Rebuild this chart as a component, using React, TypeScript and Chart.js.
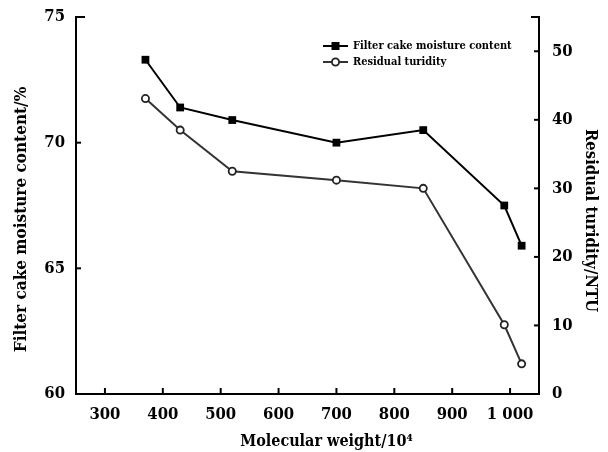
import React, { useEffect, useRef } from "react";
import { Chart, registerables } from "chart.js";

Chart.register(...registerables);

const molecularWeights = [370, 430, 520, 700, 850, 990, 1020];
const moistureContent = [73.3, 71.4, 70.9, 70.0, 70.5, 67.5, 65.9];
const residualTurbidity = [43.1, 38.5, 32.5, 31.2, 30.0, 10.1, 4.4];

const xTickValues = [300, 400, 500, 600, 700, 800, 900, 1000];
const xTickLabels = ["300", "400", "500", "600", "700", "800", "900", "1 000"];
const leftTickValues = [60, 65, 70, 75];
const rightTickValues = [0, 10, 20, 30, 40, 50, 55];
const rightTickLabels = ["0", "10", "20", "30", "40", "50", ""];

const seriesNames = ["Filter cake moisture content", "Residual turidity"];
const xTitle = "Molecular weight/10\u2074";
const leftTitle = "Filter cake moisture content/%";
const rightTitle = "Residual turidity/NTU";

const FONT = "'DejaVu Serif Condensed', 'DejaVu Serif', serif";

const inwardTicks = {
  id: "inwardTicks",
  afterDraw(chart: any) {
    const ctx = chart.ctx;
    const area = chart.chartArea;
    ctx.save();
    ctx.strokeStyle = "#000";
    ctx.lineWidth = 2;
    const xs = chart.scales.x;
    xs.ticks.forEach((t: any) => {
      const px = xs.getPixelForValue(t.value);
      ctx.beginPath();
      ctx.moveTo(px, area.bottom);
      ctx.lineTo(px, area.bottom - 6);
      ctx.stroke();
    });
    const yl = chart.scales.y;
    yl.ticks.forEach((t: any) => {
      const py = yl.getPixelForValue(t.value);
      const len = t.value === yl.max ? 9 : 5;
      ctx.beginPath();
      ctx.moveTo(area.left, py);
      ctx.lineTo(area.left + len, py);
      ctx.stroke();
    });
    const yr = chart.scales.y1;
    yr.ticks.forEach((t: any) => {
      const py = yr.getPixelForValue(t.value);
      const len = t.value === yr.max ? 8 : 5;
      ctx.beginPath();
      ctx.moveTo(area.right, py);
      ctx.lineTo(area.right - len, py);
      ctx.stroke();
    });
    ctx.restore();
  },
};

const axisTitles = {
  id: "axisTitles",
  afterDraw(chart: any) {
    const ctx = chart.ctx;
    const area = chart.chartArea;
    const cy = (area.top + area.bottom) / 2 + 14;
    const draw = (text: string, size: number, x: number, y: number, rot: number) => {
      ctx.save();
      ctx.fillStyle = "#000";
      ctx.font = `bold ${size}px ${FONT}`;
      ctx.textAlign = "center";
      ctx.textBaseline = "middle";
      ctx.translate(x, y);
      ctx.rotate(rot);
      ctx.fillText(text, 0, 0);
      ctx.restore();
    };
    draw(leftTitle, 17, 22, cy, -Math.PI / 2);
    draw(rightTitle, 16.5, 590, cy + 1, Math.PI / 2);
    draw(xTitle, 16, (area.left + area.right) / 2 + 19, 442, 0);
  },
};

const insideLegend = {
  id: "insideLegend",
  afterDraw(chart: any) {
    const ctx = chart.ctx;
    const area = chart.chartArea;
    const x0 = area.left + 247;
    const rowY = [area.top + 29, area.top + 45];
    ctx.save();
    chart.data.datasets.forEach((ds: any, i: number) => {
      const y = rowY[i];
      ctx.strokeStyle = ds.borderColor;
      ctx.lineWidth = 2;
      ctx.beginPath();
      ctx.moveTo(x0, y);
      ctx.lineTo(x0 + 25, y);
      ctx.stroke();
      if (ds.pointStyle === "rect") {
        ctx.fillStyle = ds.pointBackgroundColor;
        ctx.fillRect(x0 + 8.5, y - 4, 8, 8);
      } else {
        ctx.fillStyle = "#fff";
        ctx.strokeStyle = ds.pointBorderColor;
        ctx.lineWidth = 1.8;
        ctx.beginPath();
        ctx.arc(x0 + 12.5, y, 3.6, 0, Math.PI * 2);
        ctx.fill();
        ctx.stroke();
      }
      ctx.fillStyle = "#000";
      ctx.font = `bold 11px ${FONT}`;
      ctx.textBaseline = "middle";
      ctx.textAlign = "left";
      ctx.fillText(ds.label, x0 + 30, y);
    });
    ctx.restore();
  },
};

export default function App() {
  const ref = useRef<HTMLCanvasElement | null>(null);

  useEffect(() => {
    if (!ref.current) return;
    const tickFont = { family: FONT, size: 16.5, weight: "bold" as const };
    const chart = new Chart(ref.current, {
      type: "line",
      data: {
        datasets: [
          {
            label: seriesNames[0],
            data: molecularWeights.map((x, i) => ({ x, y: moistureContent[i] })),
            yAxisID: "y",
            borderColor: "#000",
            borderWidth: 2,
            pointStyle: "rect",
            pointRadius: 5.5,
            pointBackgroundColor: "#000",
            pointBorderColor: "#000",
            pointBorderWidth: 0,
            tension: 0,
          },
          {
            label: seriesNames[1],
            data: molecularWeights.map((x, i) => ({ x, y: residualTurbidity[i] })),
            yAxisID: "y1",
            borderColor: "#333",
            borderWidth: 2,
            pointStyle: "circle",
            pointRadius: 3.6,
            pointBackgroundColor: "#fff",
            pointBorderColor: "#222",
            pointBorderWidth: 1.8,
            tension: 0,
          },
        ],
      },
      options: {
        animation: false,
        responsive: false,
        clip: false as any,
        layout: { padding: { top: 17, left: 0, right: 0, bottom: 0 } },
        plugins: { legend: { display: false }, tooltip: { enabled: false } },
        scales: {
          x: {
            type: "linear",
            min: 250,
            max: 1050,
            afterBuildTicks: (s: any) => {
              s.ticks = xTickValues.map((v) => ({ value: v }));
            },
            afterFit: (s: any) => {
              s.height = 58;
            },
            grid: { display: false },
            border: { display: true, color: "#000", width: 2 },
            ticks: {
              color: "#000",
              font: tickFont,
              padding: 3,
              maxRotation: 0,
              autoSkip: false,
              callback: (v: any) => {
                const i = xTickValues.indexOf(Number(v));
                return i >= 0 ? xTickLabels[i] : "";
              },
            },
            title: { display: false },
          },
          y: {
            type: "linear",
            position: "left",
            min: 60,
            max: 75,
            afterBuildTicks: (s: any) => {
              s.ticks = leftTickValues.map((v) => ({ value: v }));
            },
            afterFit: (s: any) => {
              s.width = 76;
            },
            grid: { display: false },
            border: { display: true, color: "#000", width: 2 },
            ticks: { color: "#000", font: tickFont, padding: 3 },
            title: { display: false },
          },
          y1: {
            type: "linear",
            position: "right",
            min: 0,
            max: 55,
            afterBuildTicks: (s: any) => {
              s.ticks = rightTickValues.map((v) => ({ value: v }));
            },
            afterFit: (s: any) => {
              s.width = 69;
            },
            grid: { display: false },
            border: { display: true, color: "#000", width: 2 },
            ticks: {
              color: "#000",
              font: tickFont,
              padding: 5,
              callback: (v: any) => {
                const i = rightTickValues.indexOf(Number(v));
                return i >= 0 ? rightTickLabels[i] : "";
              },
            },
            title: { display: false },
          },
        },
      },
      plugins: [inwardTicks, axisTitles, insideLegend],
    });
    return () => chart.destroy();
  }, []);

  return (
    <div style={{ position: "absolute", left: 0, top: 0, width: 608, height: 452, background: "#fff" }}>
      <canvas ref={ref} width={608} height={452} style={{ display: "block" }} />
    </div>
  );
}
